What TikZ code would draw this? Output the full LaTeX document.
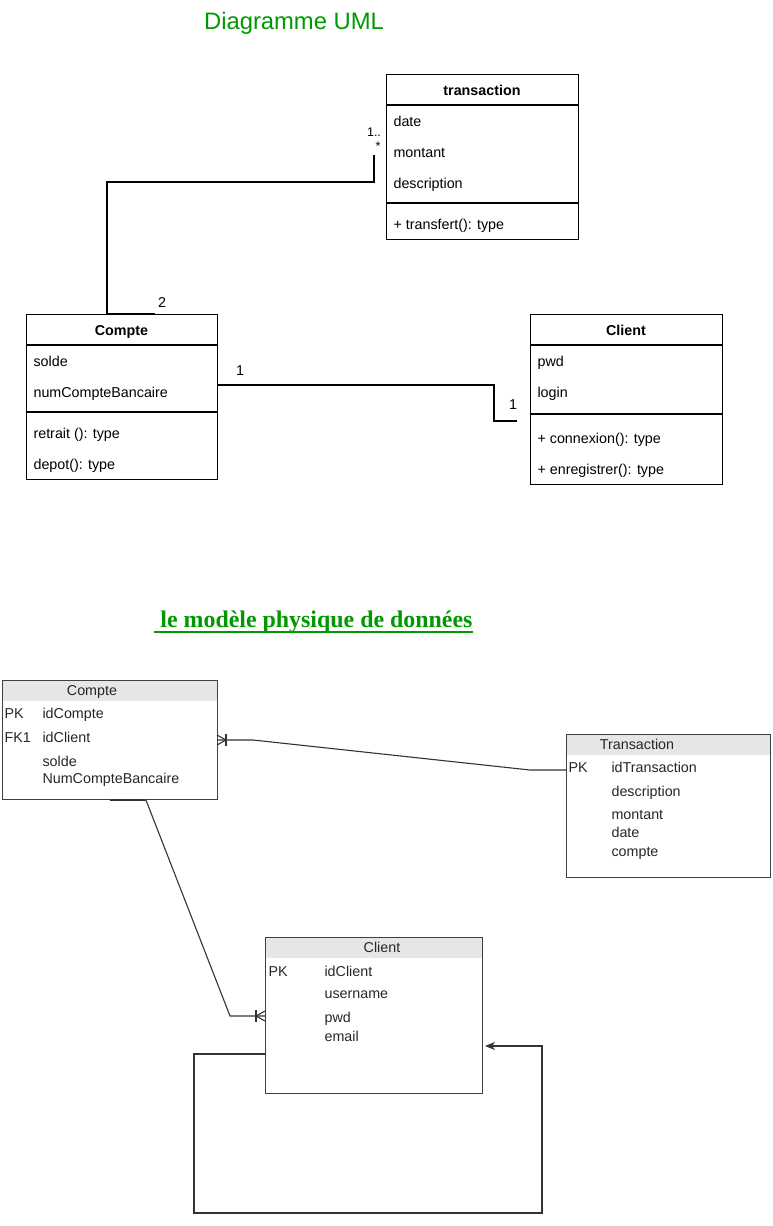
\documentclass[tikz,border=0pt]{standalone}
\usepackage{xcolor}
\usepackage{tikz}
\usepackage{fontspec}
\setmainfont{Liberation Sans}
\newfontfamily\titleserif{Liberation Serif}
\usetikzlibrary{arrows.meta}
\definecolor{titlegreen}{HTML}{009900}
\definecolor{hdrgray}{HTML}{E6E6E6}

\begin{document}
\begin{tikzpicture}[x=1pt,y=-1pt,line width=1.1pt]
			
			\tikzstyle{umlbox} = [draw,anchor=north west,inner sep=0,minimum width=192,minimum height=165]
			\tikzstyle{erbox} = [draw=black!75,anchor=north west,inner sep=0]
			\tikzstyle{erhead} = [fill=hdrgray,anchor=north west,inner sep=0,minimum height=20]
			\tikzstyle{field} = [anchor=west,inner sep=0,text height=10.2pt,text depth=0pt,font=\fontsize{14.3}{17}\selectfont]
			\tikzstyle{erfield} = [field,text=black!85]
			\tikzstyle{umlhead} = [field,anchor=center,font=\fontsize{14.3}{17}\selectfont\bfseries]
			\tikzstyle{mult} = [inner sep=0,font=\fontsize{14.3}{17}\selectfont]
			
			\useasboundingbox (0,0) rectangle (772,1226);
			
			% titles
			\node[text=titlegreen,inner sep=0,text height=17pt,text depth=0pt,font=\fontsize{23.8}{28}\selectfont] (umlTitle) at (294,21) {Diagramme UML};
			\node[text=titlegreen,inner sep=0,anchor=base,font=\titleserif\bfseries\fontsize{23.9}{28}\selectfont] (mpdTitle) at (313.5,627) {\ le modèle physique de données};
			\draw[titlegreen,line width=2pt] ([yshift=-5pt]mpdTitle.base west) -- ([yshift=-5pt]mpdTitle.base east);
			
			% uml : transaction
			\node[umlbox] (utr) at (386,74) {};
			\draw (utr.west |- 0,105) -- (utr.east |- 0,105);
			\draw (utr.west |- 0,203) -- (utr.east |- 0,203);
			\node[umlhead] (utrName) at (482,90) {transaction};
			\node[field] (utrDate) at (393,121) {date};
			\node[field] (utrMontant) at (393,152) {montant};
			\node[field] (utrDesc) at (393,183) {description};
			\node[field] (utrTransfert) at (393,224) {+ transfert(): type};
			
			% uml : Compte
			\node[umlbox,minimum width=191] (ucpt) at (26,314) {};
			\draw (ucpt.west |- 0,345) -- (ucpt.east |- 0,345);
			\draw (ucpt.west |- 0,412) -- (ucpt.east |- 0,412);
			\node[umlhead] (ucptName) at (121.5,330) {Compte};
			\node[field] (ucptSolde) at (33,361) {solde};
			\node[field] (ucptNum) at (33,392) {numCompteBancaire};
			\node[field] (ucptRetrait) at (33,433) {retrait (): type};
			\node[field] (ucptDepot) at (33,464) {depot(): type};
			
			% uml : Client
			\node[umlbox,minimum height=170] (ucli) at (530,314) {};
			\draw (ucli.west |- 0,345) -- (ucli.east |- 0,345);
			\draw (ucli.west |- 0,414) -- (ucli.east |- 0,414);
			\node[umlhead] (ucliName) at (626,330) {Client};
			\node[field] (ucliPwd) at (537,361) {pwd};
			\node[field] (ucliLogin) at (537,392) {login};
			\node[field] (ucliConnexion) at (537,438) {+ connexion(): type};
			\node[field] (ucliEnreg) at (537,469) {+ enregistrer(): type};
			
			% uml links
			\coordinate (utrEnd) at (374,155);
			\coordinate (ucliEnd) at (517,421);
			\draw (ucpt.north west) ++(81,0) |- (utrEnd |- 0,182) -- (utrEnd);
			\draw[line width=2pt] (ucpt.north west) ++(81,0) -- ++(48,0);
			\draw (ucpt.east |- 0,385) -| (494,421) -- (ucliEnd);
			\node[mult,font=\fontsize{12.5}{14}\selectfont] (m1) at (374,132) {1..};
			\node[mult,font=\fontsize{12.5}{14}\selectfont] (m2) at (378,146) {*};
			\node[mult] (m3) at (162,303) {2};
			\node[mult] (m4) at (240,371) {1};
			\node[mult] (m5) at (513,405) {1};
			
			% mpd : Compte
			\node[erhead,minimum width=215] (ecptH) at (2,680) {};
			\node[erbox,minimum width=215,minimum height=119] (ecpt) at (2,680) {};
			\node[erfield,anchor=center] (ecptName) at (92,690) {Compte};
			\node[erfield] (ecptPK) at (4,713) {PK};
			\node[erfield] (ecptId) at (42,713) {idCompte};
			\node[erfield] (ecptFK) at (4,737) {FK1};
			\node[erfield] (ecptCli) at (42,737) {idClient};
			\node[erfield] (ecptSolde) at (42,761) {solde};
			\node[erfield] (ecptNum) at (42,778) {NumCompteBancaire};
			
			% mpd : Transaction
			\node[erhead,minimum width=204] (etrH) at (566,734) {};
			\node[erbox,minimum width=204,minimum height=143] (etr) at (566,734) {};
			\node[erfield,anchor=center] (etrName) at (637,744) {Transaction};
			\node[erfield] (etrPK) at (568,767) {PK};
			\node[erfield] (etrId) at (611,767) {idTransaction};
			\node[erfield] (etrDesc) at (611,791) {description};
			\node[erfield] (etrMontant) at (611,814) {montant};
			\node[erfield] (etrDate) at (611,832) {date};
			\node[erfield] (etrCompte) at (611,851) {compte};
			
			% mpd : Client
			\node[erhead,minimum width=217] (ecliH) at (265,937) {};
			\node[erbox,minimum width=217,minimum height=156] (ecli) at (265,937) {};
			\node[erfield,anchor=center] (ecliName) at (382,947) {Client};
			\node[erfield] (ecliPK) at (268,971) {PK};
			\node[erfield] (ecliId) at (324,971) {idClient};
			\node[erfield] (ecliUser) at (324,993) {username};
			\node[erfield] (ecliPwd) at (324,1017) {pwd};
			\node[erfield] (ecliEmail) at (324,1036) {email};
			
			% mpd links
			\draw[black!80] (ecpt.east |- 0,740) -- (253,740) -- (530,770) -- (etr.west |- 0,770);
			\draw[black!80] (226,734) -- (226,746);
			\draw[black!80] (217,735) -- (226,740) -- (217,745);
			
			\draw[black!80,line width=2pt] (ecpt.south west) ++(108,0) -- ++(36,0);
			\draw[black!80] (ecpt.south west) ++(144,0) -- (230,1016) -- (ecli.west |- 0,1016);
			\draw[black!80] (256,1010) -- (256,1022);
			\draw[black!80] (265,1011) -- (256,1016) -- (265,1021);
			
			\coordinate (ecliEnd) at (485,1046);
			\draw[black!80,-{Stealth[length=10pt,width=8pt,inset=3pt]}] (ecli.west |- 0,1054) -- (194,1054) -- (194,1213) -- (542,1213) |- (ecliEnd);
		\end{tikzpicture}
\end{document}
